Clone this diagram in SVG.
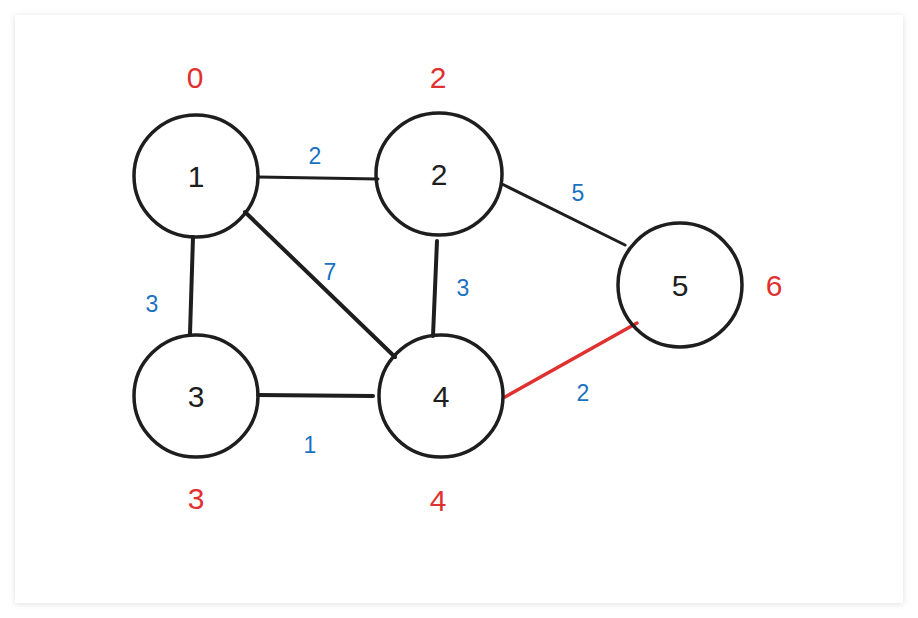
<svg xmlns="http://www.w3.org/2000/svg" width="918" height="618" viewBox="0 0 918 618">
<defs>
<filter id="sh" x="-5%" y="-5%" width="110%" height="110%">
<feDropShadow dx="0" dy="1" stdDeviation="3" flood-color="#000" flood-opacity="0.12"/>
</filter>
</defs>
<style>
.node ellipse{fill:none;stroke:#1e1e1e;stroke-width:3.5}
.node text{font-family:"Liberation Sans",sans-serif;font-size:30px;fill:#1e1e1e;text-anchor:middle;dominant-baseline:central}
.edge{stroke:#1e1e1e;stroke-width:3;stroke-linecap:round;fill:none}
.thick{stroke-width:4}
.hot{stroke:#e03131;stroke-width:3.5}
.w{font-family:"Liberation Sans",sans-serif;font-size:23px;fill:#1971c2;text-anchor:middle;dominant-baseline:central}
.d{font-family:"Liberation Sans",sans-serif;font-size:30px;fill:#e03131;text-anchor:middle;dominant-baseline:central}
</style>
<rect x="0" y="0" width="918" height="618" fill="#ffffff"/>
<rect x="15" y="15" width="888" height="588" fill="#ffffff" filter="url(#sh)"/>
<g id="connectors">
<line class="edge" x1="258" y1="177" x2="378" y2="179"/>
<line class="edge thick" x1="193" y1="237" x2="190" y2="334"/>
<line class="edge thick" x1="245" y1="212" x2="395" y2="357"/>
<line class="edge thick" x1="437" y1="241" x2="433" y2="336"/>
<line class="edge thick" x1="258" y1="395" x2="373" y2="396"/>
<line class="edge" x1="502" y1="184" x2="625" y2="245"/>
<line class="edge hot" x1="505" y1="397" x2="637" y2="323"/>
<text class="w" x="315" y="156">2</text>
<text class="w" x="152" y="304">3</text>
<text class="w" x="330" y="272">7</text>
<text class="w" x="463" y="288">3</text>
<text class="w" x="310" y="445">1</text>
<text class="w" x="578" y="193">5</text>
<text class="w" x="583" y="393">2</text>
</g>
<g id="node1" class="node"><ellipse cx="196" cy="176" rx="62" ry="61"/><text x="196" y="176">1</text></g>
<g id="node2" class="node"><ellipse cx="439" cy="174" rx="63" ry="61"/><text x="439" y="174">2</text></g>
<g id="node3" class="node"><ellipse cx="196" cy="396" rx="62" ry="61"/><text x="196" y="396">3</text></g>
<g id="node4" class="node"><ellipse cx="441" cy="396" rx="62" ry="61"/><text x="441" y="396">4</text></g>
<g id="node5" class="node"><ellipse cx="680" cy="285" rx="62" ry="62"/><text x="680" y="285">5</text></g>
<g id="distances">
<text class="d" x="195" y="77">0</text>
<text class="d" x="438" y="77">2</text>
<text class="d" x="196" y="498">3</text>
<text class="d" x="438" y="500">4</text>
<text class="d" x="774" y="285">6</text>
</g>
</svg>
